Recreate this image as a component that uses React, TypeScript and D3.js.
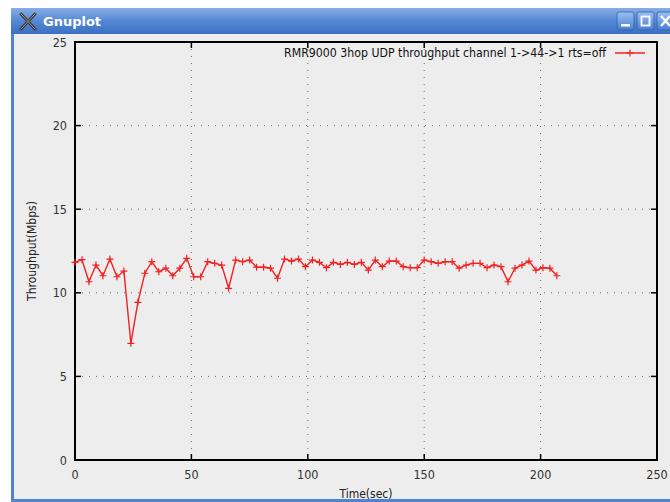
import React from 'react';
import * as d3 from 'd3';

// sample times (sec) and measured throughput (Mbps)
const times = [
  0, 3, 6, 9, 12, 15, 18, 21, 24, 27, 30, 33, 36, 39, 42, 45, 48, 51, 54, 57,
  60, 63, 66, 69, 72, 75, 78, 81, 84, 87, 90, 93, 96, 99, 102, 105, 108, 111, 114, 117,
  120, 123, 126, 129, 132, 135, 138, 141, 144, 147, 150, 153, 156, 159, 162, 165, 168, 171, 174, 177,
  180, 183, 186, 189, 192, 195, 198, 201, 204, 207
];
const throughput = [
  11.82, 11.98, 10.66, 11.66, 11.02, 12.02, 10.96, 11.3, 6.98, 9.43, 11.17, 11.86, 11.26, 11.47, 11.02, 11.47,
  12.06, 10.96, 10.96, 11.86, 11.76, 11.66, 10.27, 11.96, 11.86, 11.96, 11.53, 11.53, 11.47, 10.87, 12.02,
  11.9, 12.02, 11.56, 11.96, 11.82, 11.5, 11.82, 11.7, 11.82, 11.7, 11.82, 11.36, 11.96, 11.56, 11.9,
  11.9, 11.56, 11.5, 11.5, 11.96, 11.86, 11.76, 11.86, 11.86, 11.47, 11.66, 11.76, 11.76, 11.5, 11.66,
  11.56, 10.66, 11.47, 11.66, 11.9, 11.36, 11.5, 11.47, 11.02
];
const xTicks = [0, 50, 100, 150, 200, 250];
const yTicks = [0, 5, 10, 15, 20, 25];
const legendLabel = 'RMR9000 3hop UDP throughput channel 1->44->1 rts=off';

const font = '"Liberation Sans Narrow", "DejaVu Sans Condensed", "DejaVu Sans", sans-serif';

export default function App() {
  const left = 75, right = 657, top = 42, bottom = 460;
  const x = d3.scaleLinear().domain([0, 250]).range([left, right]);
  const y = d3.scaleLinear().domain([0, 25]).range([bottom, top]);
  const pts = times.map((t, i) => [t, throughput[i]] as [number, number]);
  const line = d3.line<[number, number]>().x((d) => x(d[0])).y((d) => y(d[1]));
  const red = '#f42020';
  const plus = (cx: number, cy: number, k: string) => (
    <path key={k} d={`M${cx - 3.5},${cy}H${cx + 3.5}M${cx},${cy - 3.5}V${cy + 3.5}`} stroke={red} strokeWidth={1.2} />
  );

  return (
    <svg width={670} height={502} style={{ position: 'absolute', left: 0, top: 0 }} fontFamily={font}>
      <defs>
        <linearGradient id="tb" x1="0" y1="0" x2="0" y2="1">
          <stop offset="0" stopColor="#86aee6" />
          <stop offset="0.5" stopColor="#5588d4" />
          <stop offset="1" stopColor="#3c6fc2" />
        </linearGradient>
        <linearGradient id="btn" x1="0" y1="0" x2="0" y2="1">
          <stop offset="0" stopColor="#9cc0f0" />
          <stop offset="1" stopColor="#4a7fd0" />
        </linearGradient>
      </defs>
      <rect width={670} height={502} fill="#ffffff" />
      {/* window frame */}
      <rect x={11} y={8} width={680} height={494} fill="#4f84d2" />
      <rect x={14} y={34} width={680} height={465} fill="#ededed" />
      <rect x={11} y={8} width={680} height={26} fill="url(#tb)" />
      <path d="M21,14 L35,29 M35,14 L21,29" stroke="#3a3a3a" strokeWidth={3} strokeLinecap="round" />
      <path d="M21,14 L35,29 M35,14 L21,29" stroke="#9a9a9a" strokeWidth={1} strokeLinecap="round" />
      <text x={43} y={26} fill="#ffffff" fontFamily="'DejaVu Sans', sans-serif" fontWeight="bold" fontSize={13}>Gnuplot</text>
      {[617, 637, 657].map((bx, i) => (
        <g key={`b${i}`}>
          <rect x={bx} y={12} width={17} height={18} rx={2} fill="url(#btn)" stroke="#2f5fae" strokeWidth={0.8} />
          {i === 0 && <rect x={bx + 4} y={24} width={9} height={2.5} fill="#fff" />}
          {i === 1 && <rect x={bx + 4.5} y={16.5} width={8} height={9} fill="none" stroke="#fff" strokeWidth={1.8} />}
          {i === 2 && <path d={`M${bx + 4},${16} L${bx + 13},${26} M${bx + 13},${16} L${bx + 4},${26}`} stroke="#fff" strokeWidth={2.2} />}
        </g>
      ))}

      {/* grid */}
      {xTicks.filter((t) => t > 0 && t < 250).map((t) => (
        <line key={`gx${t}`} x1={x(t)} x2={x(t)} y1={top} y2={bottom} stroke="#6a6a6a" strokeDasharray="1,6" />
      ))}
      {yTicks.filter((t) => t > 0 && t < 25).map((t) => (
        <line key={`gy${t}`} x1={left} x2={right} y1={y(t)} y2={y(t)} stroke="#6a6a6a" strokeDasharray="1,6" />
      ))}
      {/* ticks */}
      {xTicks.map((t) => (
        <g key={`tx${t}`}>
          <line x1={x(t)} x2={x(t)} y1={bottom} y2={bottom - 6} stroke="#000" strokeWidth={1.5} />
          <line x1={x(t)} x2={x(t)} y1={top} y2={top + 6} stroke="#000" strokeWidth={1.5} />
          <text x={x(t)} y={479} textAnchor="middle" fontSize={12.5} fill="#333">{t}</text>
        </g>
      ))}
      {yTicks.map((t) => (
        <g key={`ty${t}`}>
          <line x1={left} x2={left + 6} y1={y(t)} y2={y(t)} stroke="#000" strokeWidth={1.5} />
          <line x1={right} x2={right - 6} y1={y(t)} y2={y(t)} stroke="#000" strokeWidth={1.5} />
          <text x={67} y={y(t) + 4.5} textAnchor="end" fontSize={12.5} fill="#333">{t}</text>
        </g>
      ))}
      <rect x={left} y={top} width={right - left} height={bottom - top} fill="none" stroke="#000" strokeWidth={2} />

      <text x={x(125)} y={498} textAnchor="middle" fontSize={12} fill="#222">Time(sec)</text>
      <text transform={`translate(36,${y(12.5)}) rotate(-90)`} textAnchor="middle" fontSize={12} fill="#222">Throughput(Mbps)</text>

      {/* legend */}
      <text x={606} y={57} textAnchor="end" fontSize={12} fill="#111" textLength={322} lengthAdjust="spacingAndGlyphs">{legendLabel}</text>
      <line x1={615} x2={645} y1={53} y2={53} stroke={red} strokeWidth={1.5} />
      {plus(630, 53, 'lg')}

      <path d={line(pts) ?? ''} fill="none" stroke={red} strokeWidth={1.4} />
      {pts.map((d, i) => plus(x(d[0]), y(d[1]), `p${i}`))}
    </svg>
  );
}
